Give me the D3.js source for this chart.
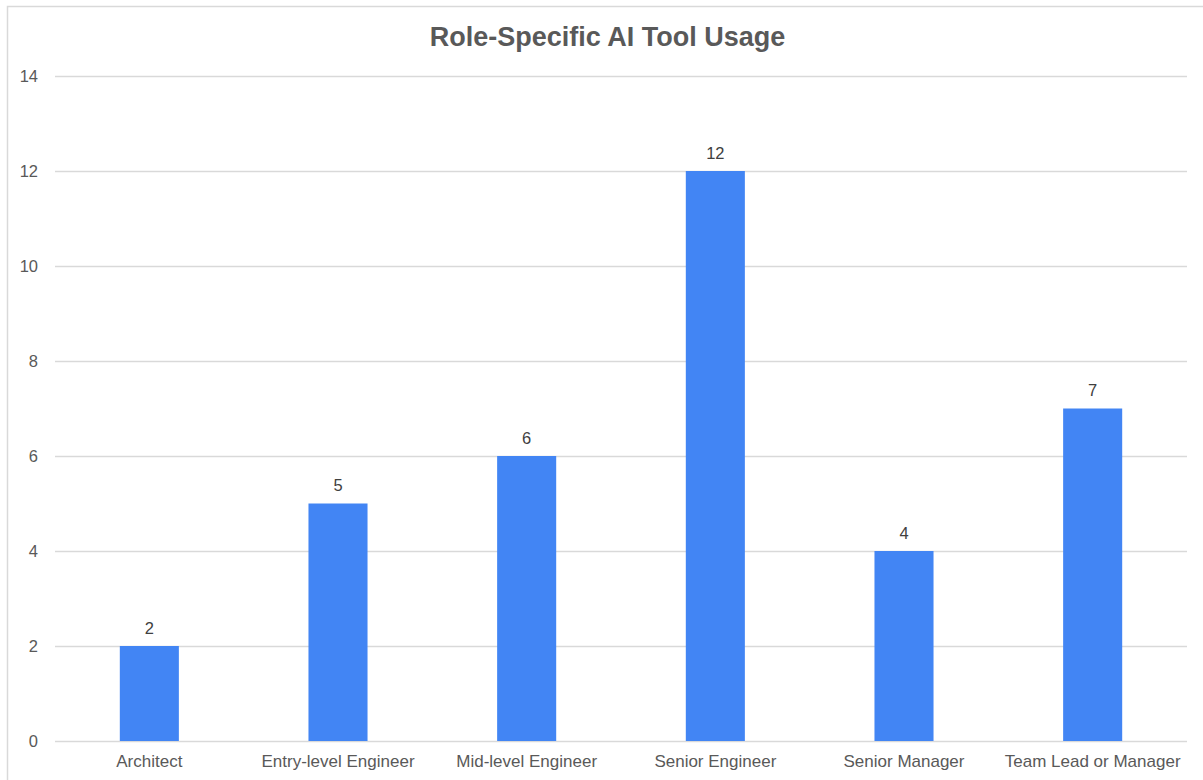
<!DOCTYPE html>
<html>
<head>
<meta charset="utf-8">
<script src="https://cdn.jsdelivr.net/npm/d3@7"></script>
<style>
  html, body { margin: 0; padding: 0; background: #ffffff; }
  svg { display: block; }
</style>
</head>
<body>
<script>
// Survey responses: number of respondents per role using AI tools
const roles = ["Architect", "Entry-level Engineer", "Mid-level Engineer", "Senior Engineer", "Senior Manager", "Team Lead or Manager"];
const counts = [2, 5, 6, 12, 4, 7];
const yTicks = [0, 2, 4, 6, 8, 10, 12, 14];
const chartTitle = "Role-Specific AI Tool Usage";

const W = 1203, H = 780;
const margin = { left: 55, right: 16, top: 76, bottom: 39 };
const font = "'Liberation Sans', Arial, sans-serif";
const textColor = "#595959";

const svg = d3.select("body").append("svg")
  .attr("width", W)
  .attr("height", H);

// chart frame
svg.append("rect")
  .attr("x", 7.5).attr("y", 6.5)
  .attr("width", W + 10).attr("height", H + 10)
  .attr("fill", "#ffffff")
  .attr("stroke", "#d9d9d9")
  .attr("stroke-width", 1.5);

const x = d3.scaleBand()
  .domain(roles)
  .range([margin.left, W - margin.right])
  .paddingInner(0.687)
  .paddingOuter(0.3435);

const y = d3.scaleLinear()
  .domain([0, 14])
  .range([H - margin.bottom, margin.top]);

// title
svg.append("text")
  .attr("x", 607.5)
  .attr("y", 46)
  .attr("text-anchor", "middle")
  .attr("font-family", font)
  .attr("font-weight", "bold")
  .attr("font-size", "27px")
  .attr("fill", textColor)
  .text(chartTitle);

// horizontal gridlines with value labels on the left
const yAxis = svg.append("g")
  .attr("transform", `translate(${margin.left},0)`)
  .call(d3.axisLeft(y)
    .tickValues(yTicks)
    .tickSize(-(W - margin.left - margin.right))
    .tickPadding(17)
    .tickFormat(d3.format("d")));
yAxis.select(".domain").remove();
yAxis.selectAll(".tick line")
  .attr("stroke", "#d9d9d9")
  .attr("stroke-width", 1.5);
yAxis.selectAll(".tick text")
  .attr("font-family", font)
  .attr("font-size", "16.5px")
  .attr("fill", textColor);

// category axis
const xAxis = svg.append("g")
  .attr("transform", `translate(0,${H - margin.bottom})`)
  .call(d3.axisBottom(x).tickSize(0).tickPadding(14));
xAxis.select(".domain").remove();
xAxis.selectAll(".tick text")
  .attr("font-family", font)
  .attr("font-size", "17px")
  .attr("fill", textColor);

// bars
const data = roles.map((r, i) => ({ role: r, value: counts[i] }));
svg.append("g")
  .selectAll("rect")
  .data(data)
  .join("rect")
  .attr("x", d => x(d.role))
  .attr("width", x.bandwidth())
  .attr("y", d => y(d.value))
  .attr("height", d => y(0) - y(d.value))
  .attr("fill", "#4285f4");

// value labels above bars
svg.append("g")
  .selectAll("text")
  .data(data)
  .join("text")
  .attr("x", d => x(d.role) + x.bandwidth() / 2)
  .attr("y", d => y(d.value) - 12.5)
  .attr("text-anchor", "middle")
  .attr("font-family", font)
  .attr("font-size", "16.5px")
  .attr("fill", "#404040")
  .text(d => d.value);
</script>
</body>
</html>
